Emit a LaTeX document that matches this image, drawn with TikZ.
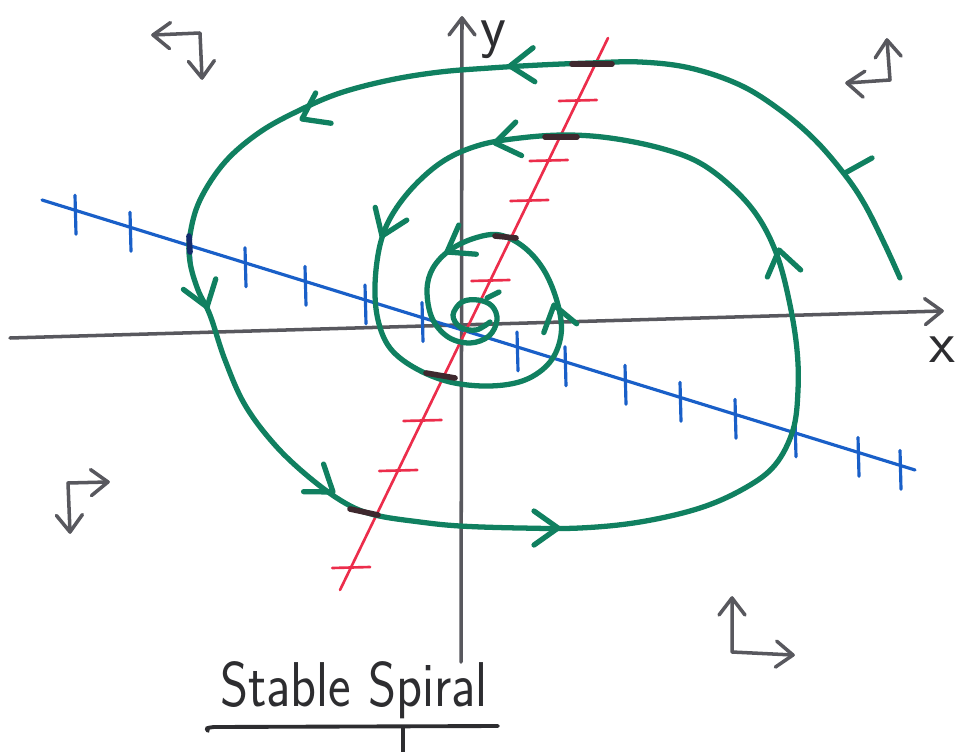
\documentclass[tikz,border=0pt]{standalone}
\usetikzlibrary{calc}
\definecolor{spiralgreen}{RGB}{16,128,96}
\definecolor{lineblue}{RGB}{25,95,200}
\definecolor{linered}{RGB}{236,45,75}
\definecolor{axisgray}{RGB}{88,88,94}
\definecolor{darkmark}{RGB}{62,40,46}
\definecolor{darknavy}{RGB}{20,45,110}
\definecolor{ink}{RGB}{45,45,48}
\begin{document}
\begin{tikzpicture}[x=0.01cm,y=-0.01cm,
  axis/.style={draw=axisgray,line width=1pt,line cap=round,line join=round},
  spiral/.style={draw=spiralgreen,line width=1.5pt,line cap=round,line join=round},
  blueline/.style={draw=lineblue,line width=0.9pt,line cap=round},
  redline/.style={draw=linered,line width=0.75pt,line cap=round},
  darkspot/.style={draw=darkmark,line width=1.6pt,line cap=round},
  lbl/.style={text=ink,font=\sffamily\fontsize{17}{20}\selectfont,inner sep=0pt},
  chev/.pic={\draw[spiral] (-24,17) -- (0,0) -- (-24,-17);},
  grayhead/.pic={\draw[axis] (-17,13) -- (0,0) -- (-17,-13);}
]
\useasboundingbox[fill=white] (0,0) rectangle (955,752);

% axes
\coordinate (xs) at (10,338);
\coordinate (xe) at (942,311);
\coordinate (ys) at (461,662);
\coordinate (ye) at (462,18);
\draw[axis] (xs) -- (xe);
\draw[axis] (ys) -- (ye);
\pic[rotate=2] at (xe) {grayhead};
\pic[rotate=90] at (ye) {grayhead};
\node[lbl] (xlab) at (942,350) {x};
\node[lbl] (ylab) at (493,40) {y};

% blue line with ticks
\coordinate (b1) at (42,200);
\coordinate (b2) at (915,470);
\draw[blueline] (b1) -- (b2);
\foreach \x in {75,130,190,245,305,365,422,517,565,625,680,735,795,858,900}{
  \pgfmathsetmacro\yy{200+(\x-42)*0.30928}
  \draw[blueline] (\x,{\yy-15}) -- (\x+1,{\yy+24});
}

% red line with ticks
\coordinate (r1) at (340,590);
\coordinate (r2) at (608,38);
\draw[redline] (r1) -- (r2);
\foreach \y in {100,160,200,280,420,470,567}{
  \pgfmathsetmacro\xx{340+(590-\y)*0.48551}
  \draw[redline] ({\xx-19},\y+1) -- ({\xx+19},\y);
}

% spiral trajectory
\draw[spiral] plot[smooth,tension=0.6] coordinates {
 (900,278) (885,245) (865,205) (845,175) (815,140) (780,110) (740,85)
 (690,68) (640,62) (590,63) (540,65) (490,68) (440,72) (390,80) (340,93)
 (300,110) (260,132) (225,162) (200,200) (190,235) (190,262) (198,290)
 (210,315) (225,360) (245,405) (275,445) (310,478) (345,503) (375,515)
 (420,522) (460,526) (520,528) (580,528) (640,522) (700,508) (745,488)
 (775,465) (793,430) (798,390) (797,350) (790,305) (778,258) (760,220)
 (735,190) (700,163) (660,148) (610,138) (565,135) (520,138) (480,145)
 (445,160) (415,185) (392,215) (380,245) (375,285) (378,320) (390,348)
 (415,368) (450,382) (490,386) (525,380) (550,362) (561,335) (558,305)
 (545,272) (525,248) (500,235) (475,238) (450,250) (433,268) (427,290)
 (432,318) (448,337) (470,343) (489,336) (497,320) (492,306) (478,300)
 (462,302) (453,315) (460,327) (476,330) (490,322)
};
\draw[spiral] (487,298) -- (499,292);
\draw[spiral] (845,173) -- (872,158);

% direction marks
\pic[rotate=183] at (510,66) {chev};
\pic[rotate=207] at (302,119) {chev};
\pic[rotate=-72] at (207,307) {chev};
\pic[rotate=-36] at (333,492) {chev};
\pic[rotate=0] at (558,528) {chev};
\pic[rotate=102] at (779,250) {chev};
\pic[rotate=190] at (495,143) {chev};
\pic[rotate=248] at (382,236) {chev};
\pic[rotate=105] at (554,305) {chev};
\pic[rotate=211] at (447,252) {chev};

% dark overlaps
\draw[darkspot] (572,64) -- (612,64);
\draw[darkspot] (545,137) -- (577,137);
\draw[darkspot] (495,236) -- (516,238);
\draw[darkspot] (426,373) -- (455,378);
\draw[darkspot] (350,509) -- (378,515);
\draw[draw=darknavy,line width=1.6pt,line cap=round] (189,236) -- (190,252);

% corner direction symbols
\coordinate (c1) at (200,33);
\draw[axis] (153,35) -- (c1) -- (202,78);
\pic[rotate=178] at (153,35) {grayhead};
\pic[rotate=-88] at (202,78) {grayhead};

\coordinate (c2) at (890,80);
\draw[axis] (887,40) -- (c2) -- (847,83);
\pic[rotate=94] at (887,40) {grayhead};
\pic[rotate=176] at (847,83) {grayhead};

\coordinate (c3) at (68,483);
\draw[axis] (108,482) -- (c3) -- (70,532);
\pic[rotate=2] at (108,482) {grayhead};
\pic[rotate=-88] at (70,532) {grayhead};

\coordinate (c4) at (732,652);
\draw[axis] (732,598) -- (c4) -- (793,655);
\pic[rotate=90] at (732,598) {grayhead};
\pic[rotate=-3] at (793,655) {grayhead};

% title
\node[text=ink,font=\sffamily\fontsize{18}{21}\selectfont,inner sep=0pt,anchor=base] (title) at (354,706) {\scalebox{0.85}[1]{Stable Spiral}};
\draw[draw=ink,line width=1.1pt,line cap=round] (208,731) .. controls (206,728) .. (214,727) -- (498,726);
\draw[draw=ink,line width=1pt] (403,727) -- (403,752);
\end{tikzpicture}
\end{document}
